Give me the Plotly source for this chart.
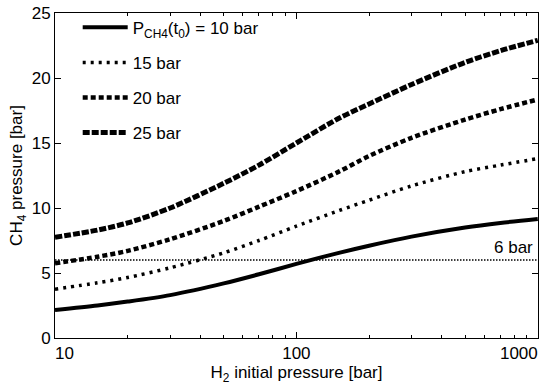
import plotly.graph_objects as go

# H2 initial pressure [bar] sample points (shared) and CH4 pressure curves [bar]
h2_pressure = [10, 15, 20, 30, 50, 70, 100, 150, 200, 300, 500, 700, 1000]
ch4_10bar = [2.15, 2.5, 2.8, 3.3, 4.2, 4.9, 5.7, 6.55, 7.1, 7.8, 8.5, 8.85, 9.15]
ch4_15bar = [3.75, 4.25, 4.65, 5.4, 6.55, 7.5, 8.6, 9.8, 10.6, 11.7, 12.8, 13.3, 13.8]
ch4_20bar = [5.75, 6.25, 6.7, 7.6, 9.0, 10.1, 11.3, 12.8, 14.0, 15.4, 16.8, 17.6, 18.35]
ch4_25bar = [7.75, 8.3, 8.85, 10.0, 11.9, 13.3, 15.0, 16.9, 18.0, 19.5, 21.2, 22.1, 22.9]

threshold_x = [10, 1000]
threshold_y = [6, 6]

names = ["P<sub>CH4</sub>(t<sub>0</sub>) = 10 bar", "15 bar", "20 bar", "25 bar"]
x_ticks = [10, 100, 1000]
x_ticktext = ["\u2007\u200710", "100", "1000\u2007\u2007\u2007\u2007"]
x_minor = [20, 30, 40, 50, 60, 70, 80, 90, 200, 300, 400, 500, 600, 700, 800, 900]
y_ticks = [0, 5, 10, 15, 20, 25]

FONT = "Liberation Sans, Arial, Helvetica, sans-serif"

fig = go.Figure()
styles = [
    dict(width=4, dash="solid"),
    dict(width=3.5, dash="3px,5px"),
    dict(width=4.5, dash="5px,3px"),
    dict(width=5, dash="7px,2px"),
]
for i, ys in enumerate([ch4_10bar, ch4_15bar, ch4_20bar, ch4_25bar]):
    fig.add_trace(go.Scatter(
        x=h2_pressure, y=ys, mode="lines", name=names[i], legendgroup=f"g{i}",
        line=dict(color="black", shape="spline", smoothing=0.8, **styles[i]),
    ))

fig.add_trace(go.Scatter(
    x=threshold_x, y=threshold_y, mode="lines", showlegend=False,
    line=dict(color="black", width=1.5, dash="1.5px,1.5px"),
))

fig.add_annotation(x=1, xref="paper", y=6, yref="y", text="6 bar", showarrow=False,
                   xanchor="right", yanchor="bottom", xshift=-3, yshift=1,
                   font=dict(size=17, color="black", family=FONT))

fig.update_layout(
    width=541, height=385,
    margin=dict(l=55, r=3, t=13, b=47),
    paper_bgcolor="white", plot_bgcolor="white",
    font=dict(family=FONT, size=17, color="black"),
    showlegend=True,
    legend=dict(x=0.047, y=1.01, xanchor="left", yanchor="top", bgcolor="rgba(0,0,0,0)",
                font=dict(size=17), tracegroupgap=10, itemwidth=45,
                traceorder="grouped"),
    xaxis=dict(
        type="log", range=[1, 3.001], tickvals=x_ticks, ticktext=x_ticktext,
        ticks="inside", ticklen=6, tickcolor="black", showline=True, linecolor="black",
        linewidth=1, mirror="allticks", showgrid=False, zeroline=False,
        ticklabeloverflow="allow", automargin=False,
        minor=dict(ticks="inside", ticklen=3, tickcolor="black", showgrid=False,
                   tickvals=x_minor),
        title=dict(text="H<sub>2</sub> initial pressure [bar]", font=dict(size=17), standoff=4),
        tickfont=dict(size=17),
    ),
    yaxis=dict(
        range=[0, 25], tickvals=y_ticks, automargin=False,
        ticks="inside", ticklen=6, tickcolor="black", showline=True, linecolor="black",
        linewidth=1, mirror="allticks", showgrid=False, zeroline=False,
        title=dict(text="CH<sub>4</sub> pressure [bar]", font=dict(size=17), standoff=4),
        tickfont=dict(size=17),
    ),
)

fig.write_html("out.html", config={"displayModeBar": False},
               post_script="document.body.style.margin='0px';")
